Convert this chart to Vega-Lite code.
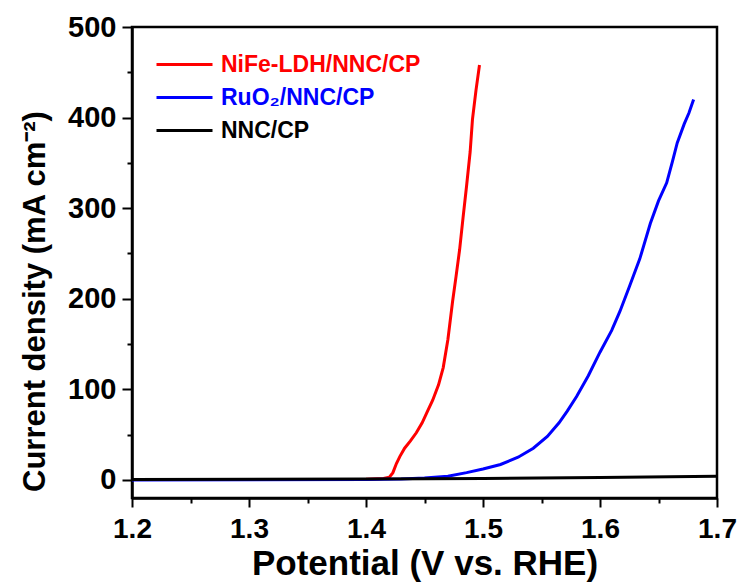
{
  "$schema": "https://vega.github.io/schema/vega-lite/v6.json",
  "width": 585,
  "height": 471,
  "autosize": {"type": "none"},
  "padding": {"left": 132, "top": 27, "right": 27, "bottom": 84},
  "background": "white",
  "config": {
    "font": "Liberation Sans",
    "view": {"stroke": "black", "strokeWidth": 2.5},
    "axis": {"domainColor": "black", "domainWidth": 2.5, "tickColor": "black", "tickWidth": 2, "labelColor": "black", "titleColor": "black", "labelFont": "Liberation Sans", "titleFont": "Liberation Sans", "labelFontWeight": "bold", "titleFontWeight": "bold", "grid": false}
  },
  "data": {"values": [
    {"s": "NiFe-LDH/NNC/CP", "x": 1.20, "y": 0.5},
    {"s": "NiFe-LDH/NNC/CP", "x": 1.30, "y": 0.5},
    {"s": "NiFe-LDH/NNC/CP", "x": 1.40, "y": 0.8},
    {"s": "NiFe-LDH/NNC/CP", "x": 1.415, "y": 1.5},
    {"s": "NiFe-LDH/NNC/CP", "x": 1.420, "y": 3},
    {"s": "NiFe-LDH/NNC/CP", "x": 1.423, "y": 8},
    {"s": "NiFe-LDH/NNC/CP", "x": 1.426, "y": 18},
    {"s": "NiFe-LDH/NNC/CP", "x": 1.429, "y": 26},
    {"s": "NiFe-LDH/NNC/CP", "x": 1.433, "y": 35},
    {"s": "NiFe-LDH/NNC/CP", "x": 1.438, "y": 43},
    {"s": "NiFe-LDH/NNC/CP", "x": 1.443, "y": 52},
    {"s": "NiFe-LDH/NNC/CP", "x": 1.448, "y": 63},
    {"s": "NiFe-LDH/NNC/CP", "x": 1.453, "y": 77},
    {"s": "NiFe-LDH/NNC/CP", "x": 1.457, "y": 88},
    {"s": "NiFe-LDH/NNC/CP", "x": 1.462, "y": 105},
    {"s": "NiFe-LDH/NNC/CP", "x": 1.466, "y": 124},
    {"s": "NiFe-LDH/NNC/CP", "x": 1.470, "y": 155},
    {"s": "NiFe-LDH/NNC/CP", "x": 1.474, "y": 197},
    {"s": "NiFe-LDH/NNC/CP", "x": 1.477, "y": 225},
    {"s": "NiFe-LDH/NNC/CP", "x": 1.480, "y": 254},
    {"s": "NiFe-LDH/NNC/CP", "x": 1.483, "y": 290},
    {"s": "NiFe-LDH/NNC/CP", "x": 1.486, "y": 325},
    {"s": "NiFe-LDH/NNC/CP", "x": 1.489, "y": 362},
    {"s": "NiFe-LDH/NNC/CP", "x": 1.491, "y": 398},
    {"s": "NiFe-LDH/NNC/CP", "x": 1.494, "y": 430},
    {"s": "NiFe-LDH/NNC/CP", "x": 1.497, "y": 458},
    {"s": "RuO₂/NNC/CP", "x": 1.20, "y": 0},
    {"s": "RuO₂/NNC/CP", "x": 1.40, "y": 0.5},
    {"s": "RuO₂/NNC/CP", "x": 1.43, "y": 1},
    {"s": "RuO₂/NNC/CP", "x": 1.45, "y": 2},
    {"s": "RuO₂/NNC/CP", "x": 1.47, "y": 4},
    {"s": "RuO₂/NNC/CP", "x": 1.486, "y": 8},
    {"s": "RuO₂/NNC/CP", "x": 1.50, "y": 12},
    {"s": "RuO₂/NNC/CP", "x": 1.515, "y": 17},
    {"s": "RuO₂/NNC/CP", "x": 1.53, "y": 25},
    {"s": "RuO₂/NNC/CP", "x": 1.543, "y": 35},
    {"s": "RuO₂/NNC/CP", "x": 1.555, "y": 48},
    {"s": "RuO₂/NNC/CP", "x": 1.565, "y": 63},
    {"s": "RuO₂/NNC/CP", "x": 1.572, "y": 76},
    {"s": "RuO₂/NNC/CP", "x": 1.58, "y": 92},
    {"s": "RuO₂/NNC/CP", "x": 1.59, "y": 115},
    {"s": "RuO₂/NNC/CP", "x": 1.60, "y": 141},
    {"s": "RuO₂/NNC/CP", "x": 1.61, "y": 165},
    {"s": "RuO₂/NNC/CP", "x": 1.617, "y": 186},
    {"s": "RuO₂/NNC/CP", "x": 1.625, "y": 213},
    {"s": "RuO₂/NNC/CP", "x": 1.634, "y": 244},
    {"s": "RuO₂/NNC/CP", "x": 1.643, "y": 283},
    {"s": "RuO₂/NNC/CP", "x": 1.650, "y": 308},
    {"s": "RuO₂/NNC/CP", "x": 1.657, "y": 328},
    {"s": "RuO₂/NNC/CP", "x": 1.662, "y": 352},
    {"s": "RuO₂/NNC/CP", "x": 1.666, "y": 372},
    {"s": "RuO₂/NNC/CP", "x": 1.672, "y": 393},
    {"s": "RuO₂/NNC/CP", "x": 1.676, "y": 405},
    {"s": "RuO₂/NNC/CP", "x": 1.680, "y": 420},
    {"s": "NNC/CP", "x": 1.20, "y": 0.5},
    {"s": "NNC/CP", "x": 1.40, "y": 1},
    {"s": "NNC/CP", "x": 1.50, "y": 1.5},
    {"s": "NNC/CP", "x": 1.60, "y": 2.5},
    {"s": "NNC/CP", "x": 1.70, "y": 4}
  ]},
  "mark": {"type": "line", "strokeWidth": 3, "clip": true},
  "encoding": {
    "x": {
      "field": "x", "type": "quantitative",
      "scale": {"domain": [1.2, 1.7], "nice": false, "zero": false},
      "axis": {
        "title": "Potential (V vs. RHE)",
        "values": [1.2, 1.25, 1.3, 1.35, 1.4, 1.45, 1.5, 1.55, 1.6, 1.65, 1.7],
        "labelExpr": "abs(datum.value*10 - round(datum.value*10)) < 0.001 ? format(datum.value, '.1f') : ''",
        "tickSize": {"condition": {"test": "abs(datum.value*10 - round(datum.value*10)) < 0.001", "value": 9}, "value": 5},
        "labelFontSize": 28, "titleFontSize": 35, "labelPadding": 8, "titlePadding": 3,
        "labelFlush": false
      }
    },
    "y": {
      "field": "y", "type": "quantitative",
      "scale": {"domain": [-20, 500], "nice": false, "zero": false},
      "axis": {
        "title": "Current density (mA cm⁻²)",
        "values": [0, 50, 100, 150, 200, 250, 300, 350, 400, 450, 500],
        "labelExpr": "datum.value % 100 === 0 ? format(datum.value, 'd') : ''",
        "tickSize": {"condition": {"test": "datum.value % 100 === 0", "value": 10}, "value": 5},
        "labelFontSize": 29, "titleFontSize": 31, "labelPadding": 6, "titlePadding": 16,
        "titleY": 274,
        "labelFlush": false
      }
    },
    "color": {
      "field": "s", "type": "nominal",
      "scale": {"domain": ["NiFe-LDH/NNC/CP", "RuO₂/NNC/CP", "NNC/CP"], "range": ["#ff0000", "#0000ff", "#000000"]},
      "legend": {
        "title": null,
        "orient": "none",
        "legendX": 41,
        "legendY": 26,
        "padding": 0,
        "symbolType": "M-2.8,0H2.8",
        "symbolSize": 400,
        "symbolStrokeWidth": 3,
        "symbolFillColor": "transparent",
        "labelFontSize": 23,
        "labelFontWeight": "bold",
        "labelFont": "Liberation Sans",
        "labelLimit": 400,
        "rowPadding": 9,
        "labelOffset": 25,
        "encode": {
          "labels": {"update": {"fill": {"scale": "color", "field": "value"}}}
        }
      }
    },
    "order": {"field": "x", "type": "quantitative"}
  }
}
